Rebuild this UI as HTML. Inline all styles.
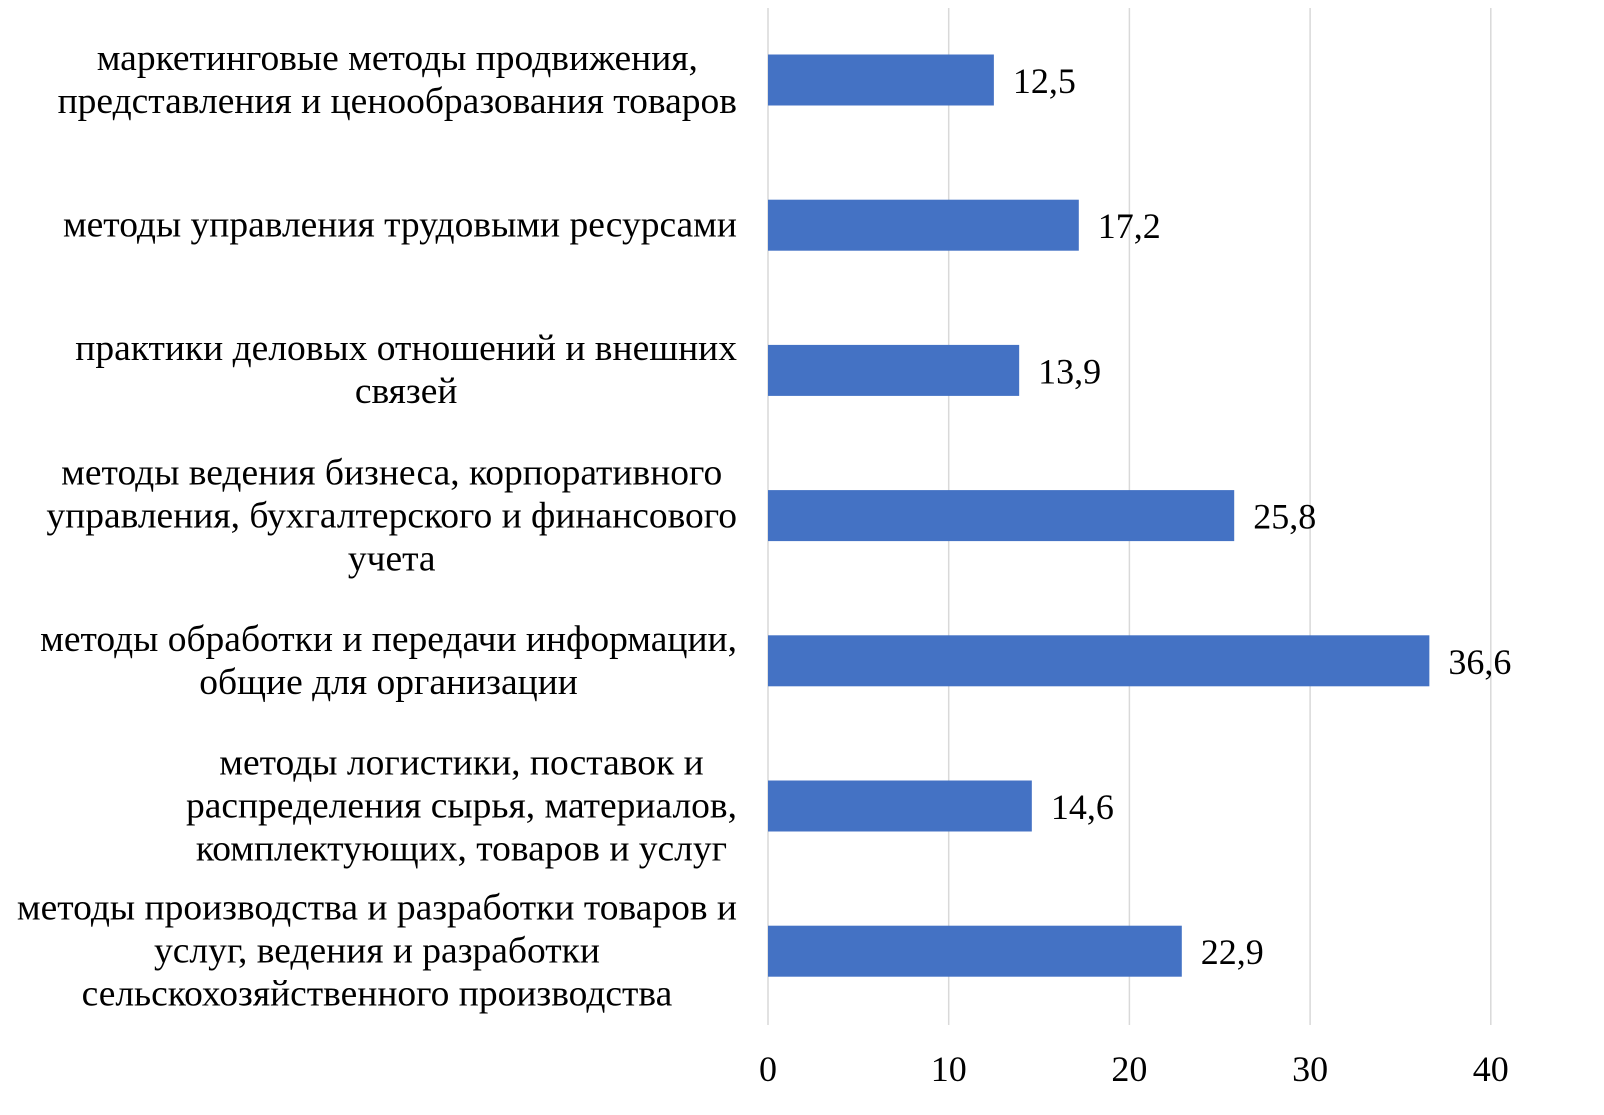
<!DOCTYPE html>
<html><head><meta charset="utf-8">
<style>
body{margin:0;background:#fff;}
#c{position:relative;width:1604px;height:1115px;overflow:hidden;font-family:"Liberation Serif",serif;color:#000;}
.lbl{position:absolute;right:867px;text-align:center;font-size:37.5px;line-height:43px;white-space:nowrap;transform:translateY(-50%);}
</style></head>
<body>
<div id="c">
<svg id="svg" width="1604" height="1115" style="position:absolute;left:0;top:0"></svg>
</div>
<script>
const categories=["маркетинговые методы продвижения,|представления и ценообразования товаров","методы управления трудовыми ресурсами","практики деловых отношений и внешних|связей","методы ведения бизнеса, корпоративного|управления, бухгалтерского и финансового|учета","методы обработки и передачи информации,|общие для организации","методы логистики, поставок и|распределения сырья, материалов,|комплектующих, товаров и услуг","методы производства и разработки товаров и|услуг, ведения и разработки|сельскохозяйственного производства"];
const values=[12.5,17.2,13.9,25.8,36.6,14.6,22.9];
const valueLabels=["12,5","17,2","13,9","25,8","36,6","14,6","22,9"];
const ticks=[0,10,20,30,40];
const tickLabels=["0","10","20","30","40"];

const NS="http://www.w3.org/2000/svg";
const svg=document.getElementById('svg');
const c=document.getElementById('c');
const x0=768,pxPerUnit=18.07,top0=80,step=145.2,barH=51,gridTop=8,gridBot=1025;
const xs=v=>x0+v*pxPerUnit;
const yc=i=>top0+i*step;
function mk(t,a){const e=document.createElementNS(NS,t);for(const k in a)e.setAttribute(k,a[k]);svg.appendChild(e);return e;}
ticks.forEach((t,i)=>{
  const g=mk('line',{x1:xs(t),x2:xs(t),y1:gridTop,y2:gridBot,stroke:'#d9d9d9','stroke-width':1.5});
  
  
  const tx=mk('text',{x:xs(t),y:1081,'text-anchor':'middle','font-size':36,'font-family':'Liberation Serif, serif'});
  tx.textContent=tickLabels[i];
  
  
});
values.forEach((v,i)=>{
  const r=mk('rect',{x:xs(0),y:yc(i)-barH/2,width:xs(v)-xs(0),height:barH,fill:'#4472c4'});
  
  
  const t=mk('text',{x:xs(v)+19,y:yc(i)+13,'font-size':36,'font-family':'Liberation Serif, serif'});
  t.textContent=valueLabels[i];
  
  
  const d=document.createElement('div');
  d.className='lbl';
  d.style.top=yc(i)+'px';
  d.innerHTML=categories[i].split('|').join('<br>');
  
  
  c.appendChild(d);
});
</script>
</body></html>
